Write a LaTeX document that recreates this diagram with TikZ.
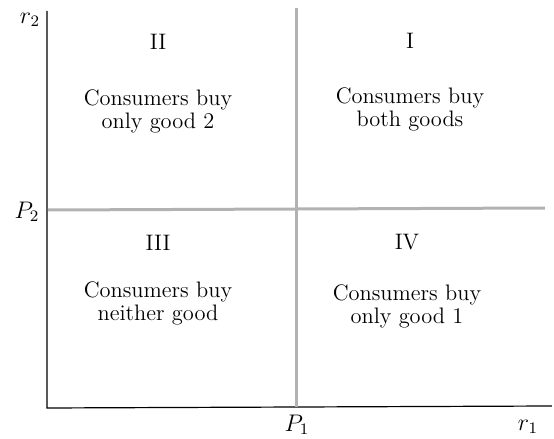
\documentclass[tikz,border=0pt]{standalone}
\begin{document}
\begin{tikzpicture}[x=0.5pt,y=-0.5pt,
    region/.style={align=center,font=\fontsize{11.2}{11.5}\selectfont},
    numeral/.style={font=\fontsize{11.2}{11.5}\selectfont},
    axislabel/.style={font=\fontsize{11.5}{12}\selectfont},
    border/.style={gray!60,line width=1.5pt}]
    \useasboundingbox (0,0) rectangle (554,439);

    % Axes
    \coordinate (O) at (47,408);
    \coordinate (ytop) at (47,11);
    \coordinate (xend) at (552,406);
    \draw[line width=0.6pt] (ytop) -- (O) -- (xend);

    % Price lines
    \coordinate (P1top) at (297,8);
    \coordinate (P1bot) at (297,407);
    \coordinate (P2left) at (48,210);
    \coordinate (P2right) at (545,208);
    \draw[border] (P1top) -- (P1bot);
    \draw[border] (P2left) -- (P2right);

    % Axis labels
    \node[axislabel] (r2) at (30,20) {$r_2$};
    \node[axislabel] (P2) at (27,212) {$P_2$};
    \node[axislabel] (P1) at (297,425) {$P_1$};
    \node[axislabel] (r1) at (528,427) {$r_1$};

    % Regions
    \node[numeral] (II) at (158,42) {II};
    \node[region] (textII) at (158,111) {Consumers buy\\only good 2};
    \node[numeral] (I) at (410,41) {I};
    \node[region] (textI) at (410,109) {Consumers buy\\both goods};
    \node[numeral] (III) at (158,243) {III};
    \node[region] (textIII) at (158,303) {Consumers buy\\neither good};
    \node[numeral] (IV) at (407,242) {IV};
    \node[region] (textIV) at (407,306) {Consumers buy\\only good 1};

\end{tikzpicture}
\end{document}
